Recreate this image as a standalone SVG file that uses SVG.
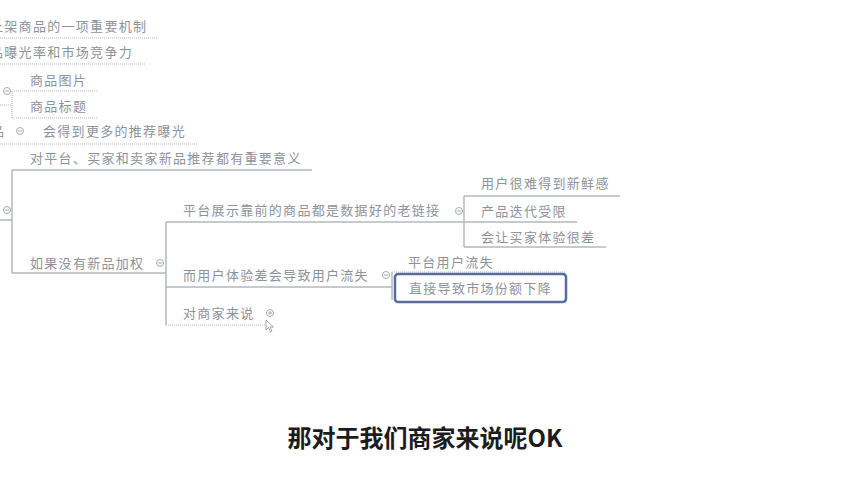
<svg xmlns="http://www.w3.org/2000/svg" width="852" height="480" viewBox="0 0 852 480">
<style>
.t{font-family:"Noto Sans CJK SC","Noto Sans",sans-serif;font-size:13px;fill:#8e929a;letter-spacing:1.3px}
.l{stroke:#b4b8be;stroke-width:1.5;fill:none}
.d{stroke:#b4b8be;stroke-width:1.2;fill:none;stroke-dasharray:1 1}
.c{fill:#fff;stroke:#a6aab0;stroke-width:1}
.cm{stroke:#a6aab0;stroke-width:1}
.sub{font-family:"Noto Sans CJK SC","Noto Sans",sans-serif;font-size:24px;font-weight:bold;fill:#1c1c1e}
</style>
<rect width="852" height="480" fill="#fff"/>
<g id="connectors">
<path class="d" d="M0 38H158"/>
<path class="d" d="M0 64H145"/>
<path class="d" d="M0 105H12M12 91V118M12 91H97M12 118H97"/>
<path class="d" d="M0 144H198"/>
<path class="l" d="M0 220H12M12 170V273M12 170H312M12 273H166"/>
<path class="l" d="M166 222V325M166 222H577M166 287H392"/>
<path class="d" d="M166 325H268"/>
<path class="l" d="M464 196V247M464 196H620M464 247H606"/>
<path class="l" d="M392 272V300"/>
<path class="d" d="M392 272H565"/>
</g>
<g id="n1"><text class="t" x="-10" y="31">上架商品的一项重要机制</text></g>
<g id="n2"><text class="t" x="-10" y="57">品曝光率和市场竞争力</text></g>
<g id="n3"><circle class="c" cx="7" cy="91" r="3.5"/><path class="cm" d="M5 91H9"/></g>
<g id="n4"><text class="t" x="30" y="85">商品图片</text></g>
<g id="n5"><text class="t" x="30" y="111">商品标题</text></g>
<g id="n6"><text class="t" x="-9" y="136">品</text><circle class="c" cx="20" cy="131" r="3.5"/><path class="cm" d="M18 131H22"/></g>
<g id="n7"><text class="t" x="43" y="136">会得到更多的推荐曝光</text></g>
<g id="n8"><text class="t" x="30" y="163">对平台、买家和卖家新品推荐都有重要意义</text></g>
<g id="n9"><circle class="c" cx="7" cy="210" r="3.5"/><path class="cm" d="M5 210H9"/></g>
<g id="n10"><text class="t" x="30" y="268">如果没有新品加权</text><circle class="c" cx="160" cy="263" r="3.5"/><path class="cm" d="M158 263H162"/></g>
<g id="n11"><text class="t" x="183" y="215">平台展示靠前的商品都是数据好的老链接</text><circle class="c" cx="459" cy="211" r="3.5"/><path class="cm" d="M457 211H461"/></g>
<g id="n12"><text class="t" x="183" y="280">而用户体验差会导致用户流失</text><circle class="c" cx="386" cy="275" r="3.5"/><path class="cm" d="M384 275H388"/></g>
<g id="n13"><text class="t" x="183" y="318">对商家来说</text><circle class="c" cx="270" cy="313" r="3.5"/><path class="cm" d="M268 313H272M270 311V315"/></g>
<g id="n14"><text class="t" x="481" y="188">用户很难得到新鲜感</text></g>
<g id="n15"><text class="t" x="481" y="216">产品迭代受限</text></g>
<g id="n16"><text class="t" x="481" y="242">会让买家体验很差</text></g>
<g id="n17"><text class="t" x="408" y="267">平台用户流失</text></g>
<g id="n18"><rect x="395" y="274" width="171" height="28" rx="3" fill="#fff" stroke="#5a6c9e" stroke-width="2.5"/><text class="t" x="409" y="293">直接导致市场份额下降</text></g>
<g id="cursor"><path d="M266 320L266 330L268.5 327.5L270.5 332L272 331L270 327L273.5 327Z" fill="#fff" stroke="#8a8e96" stroke-width="0.8"/></g>
<text class="sub" x="425" y="447" text-anchor="middle">那对于我们商家来说呢OK</text>
</svg>
